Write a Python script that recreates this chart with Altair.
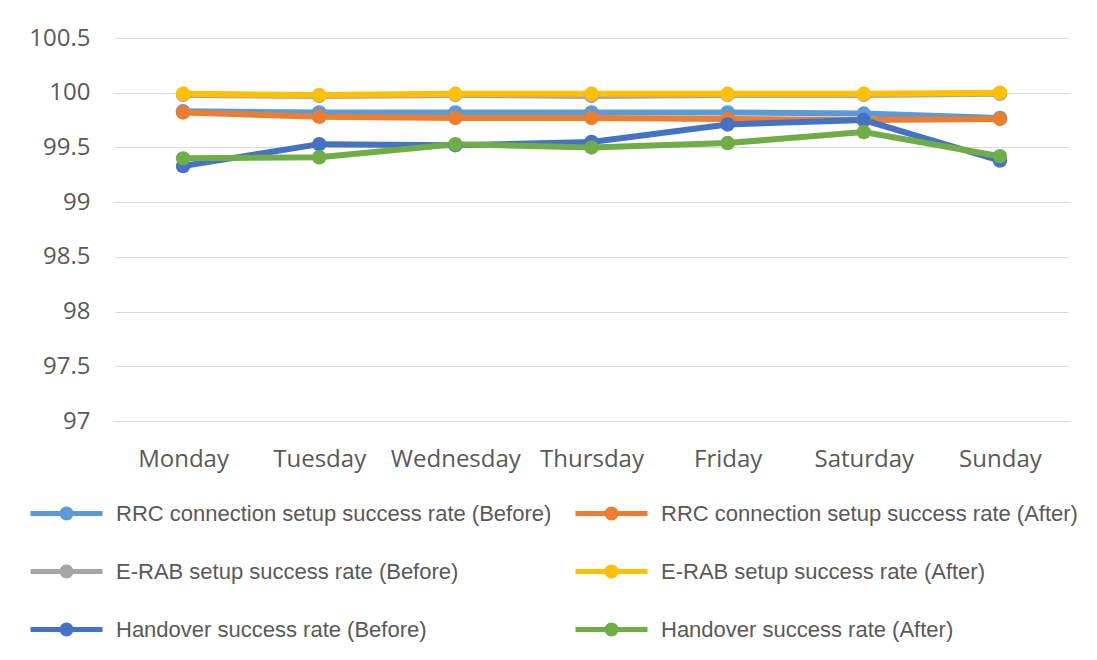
import altair as alt
import pandas as pd

days = ["Monday", "Tuesday", "Wednesday", "Thursday", "Friday", "Saturday", "Sunday"]

series_names = [
    "RRC connection setup success rate (Before)",
    "RRC connection setup success rate (After)",
    "E-RAB setup success rate (Before)",
    "E-RAB setup success rate (After)",
    "Handover success rate (Before)",
    "Handover success rate (After)",
]

rrc_before = [99.83, 99.82, 99.82, 99.82, 99.82, 99.81, 99.77]
rrc_after = [99.82, 99.78, 99.77, 99.77, 99.76, 99.75, 99.76]
erab_before = [99.98, 99.97, 99.98, 99.97, 99.98, 99.98, 99.99]
erab_after = [99.99, 99.98, 99.99, 99.99, 99.99, 99.99, 100.0]
ho_before = [99.33, 99.53, 99.52, 99.55, 99.71, 99.75, 99.38]
ho_after = [99.40, 99.41, 99.53, 99.50, 99.54, 99.64, 99.42]

colors = ["#5B9BD5", "#ED7D31", "#A5A5A5", "#FFC000", "#4472C4", "#70AD47"]

all_values = [rrc_before, rrc_after, erab_before, erab_after, ho_before, ho_after]
rows = []
for order, (name, vals) in enumerate(zip(series_names, all_values)):
    for d, v in zip(days, vals):
        rows.append({"day": d, "value": v, "series": name, "order": order})
df = pd.DataFrame(rows)

legend_path = ("M-2.4,0L2.4,0M-0.3,0A0.3,0.3,0,1,1,0.3,0"
               "A0.3,0.3,0,1,1,-0.3,0Z")

color = alt.Color(
    "series:N",
    scale=alt.Scale(domain=series_names, range=colors),
    sort=series_names,
    legend=alt.Legend(
        title=None,
        orient="none",
        legendX=-66,
        legendY=458,
        direction="horizontal",
        columns=2,
        columnPadding=13,
        rowPadding=26,
        padding=0,
        symbolType=legend_path,
        symbolSize=900,
        symbolStrokeWidth=5,
        labelOffset=32,
        labelFont="Liberation Sans",
        labelFontSize=22,
        labelColor="#595959",
        labelLimit=1000,
    ),
)

x = alt.X(
    "day:N",
    sort=days,
    scale=alt.Scale(type="point", padding=0.5),
    axis=alt.Axis(
        title=None,
        labelAngle=0,
        domain=False,
        ticks=False,
        grid=False,
        labelFont="Open Sans",
        labelFontSize=24,
        labelColor="#595959",
        labelPadding=26,
    ),
)

y = alt.Y(
    "value:Q",
    scale=alt.Scale(domain=[97, 100.5], nice=False, zero=False),
    axis=alt.Axis(
        title=None,
        values=[97, 97.5, 98, 98.5, 99, 99.5, 100, 100.5],
        format="~g",
        domain=False,
        ticks=False,
        grid=True,
        gridColor="#D9D9D9",
        gridWidth=1,
        labelFont="Open Sans",
        labelFontSize=24,
        labelColor="#595959",
        labelPadding=25,
    ),
)

chart = (
    alt.Chart(df)
    .mark_line(
        strokeWidth=6,
        point=alt.OverlayMarkDef(filled=True, size=210, opacity=1),
    )
    .encode(x=x, y=y, color=color, order=alt.Order("order:Q"))
    .properties(
        width=953,
        height=383,
        autosize=alt.AutoSizeParams(type="none"),
        padding={"left": 107, "top": 30, "right": 14, "bottom": 225},
        background="white",
    )
    .configure_view(stroke="transparent", strokeWidth=0)
)

chart.save("out.html", embed_options={"renderer": "svg", "actions": False})
